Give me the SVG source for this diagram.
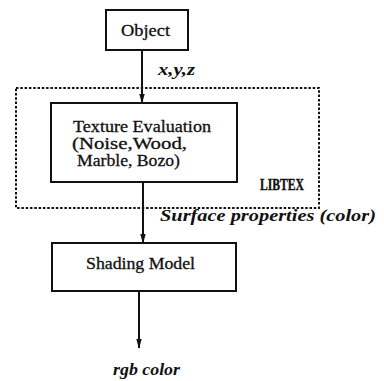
<svg xmlns="http://www.w3.org/2000/svg" width="384" height="381" viewBox="0 0 384 381">
<style>
.box{fill:#fff;stroke:#111;stroke-width:2}
.dot{fill:none;stroke:#111;stroke-width:2;stroke-dasharray:2.5 1.8}
.ln{stroke:#111;stroke-width:2;fill:none}
.t{font-family:"Liberation Serif","Times New Roman",serif;font-size:16px;fill:#111;stroke:#111;stroke-width:0.3}
.b{font-family:"Liberation Serif","Times New Roman",serif;font-size:17px;font-weight:bold;fill:#111;stroke:#111;stroke-width:0.4}
.i{font-family:"Liberation Serif","Times New Roman",serif;font-style:italic;font-weight:bold;font-size:17px;fill:#111}
</style>
<defs>
<marker id="ah" markerUnits="userSpaceOnUse" markerWidth="10" markerHeight="18" refX="15" refY="4.5" orient="auto" viewBox="0 0 16 9">
<path d="M0,0 L16,4.5 L0,9 z" fill="#111"/>
</marker>
</defs>
<rect fill="#fff" width="384" height="381"/>
<g id="libtex">
<rect class="dot" x="16" y="88" width="303" height="120"/>
<text class="b" x="260" y="190" textLength="44" lengthAdjust="spacingAndGlyphs">LIBTEX</text>
</g>
<g id="object">
<rect class="box" x="106" y="10" width="82" height="40"/>
<text class="t" x="121" y="36" font-size="17" textLength="49" lengthAdjust="spacingAndGlyphs">Object</text>
</g>
<g id="texture">
<rect class="box" x="51" y="103" width="186" height="79"/>
<text class="t" x="73" y="132" textLength="138" lengthAdjust="spacingAndGlyphs">Texture Evaluation</text>
<text class="t" x="72" y="149" textLength="115" lengthAdjust="spacingAndGlyphs">(Noise,Wood,</text>
<text class="t" x="77" y="166" textLength="103" lengthAdjust="spacingAndGlyphs">Marble, Bozo)</text>
</g>
<g id="shading">
<rect class="box" x="52" y="243" width="184" height="48"/>
<text class="t" x="86" y="269" textLength="109" lengthAdjust="spacingAndGlyphs">Shading Model</text>
</g>
<g id="connectors">
<line class="ln" x1="142" y1="50" x2="142" y2="103" marker-end="url(#ah)"/>
<line class="ln" x1="143" y1="182" x2="143" y2="243" marker-end="url(#ah)"/>
<line class="ln" x1="139" y1="291" x2="139" y2="348" marker-end="url(#ah)"/>
</g>
<g id="labels">
<text class="i" x="158" y="75" textLength="37" lengthAdjust="spacingAndGlyphs">x,y,z</text>
<text class="i" x="160" y="221" textLength="216" lengthAdjust="spacingAndGlyphs">Surface properties (color)</text>
<text class="i" x="113" y="375" font-size="18" textLength="67" lengthAdjust="spacingAndGlyphs">rgb color</text>
</g>
</svg>
